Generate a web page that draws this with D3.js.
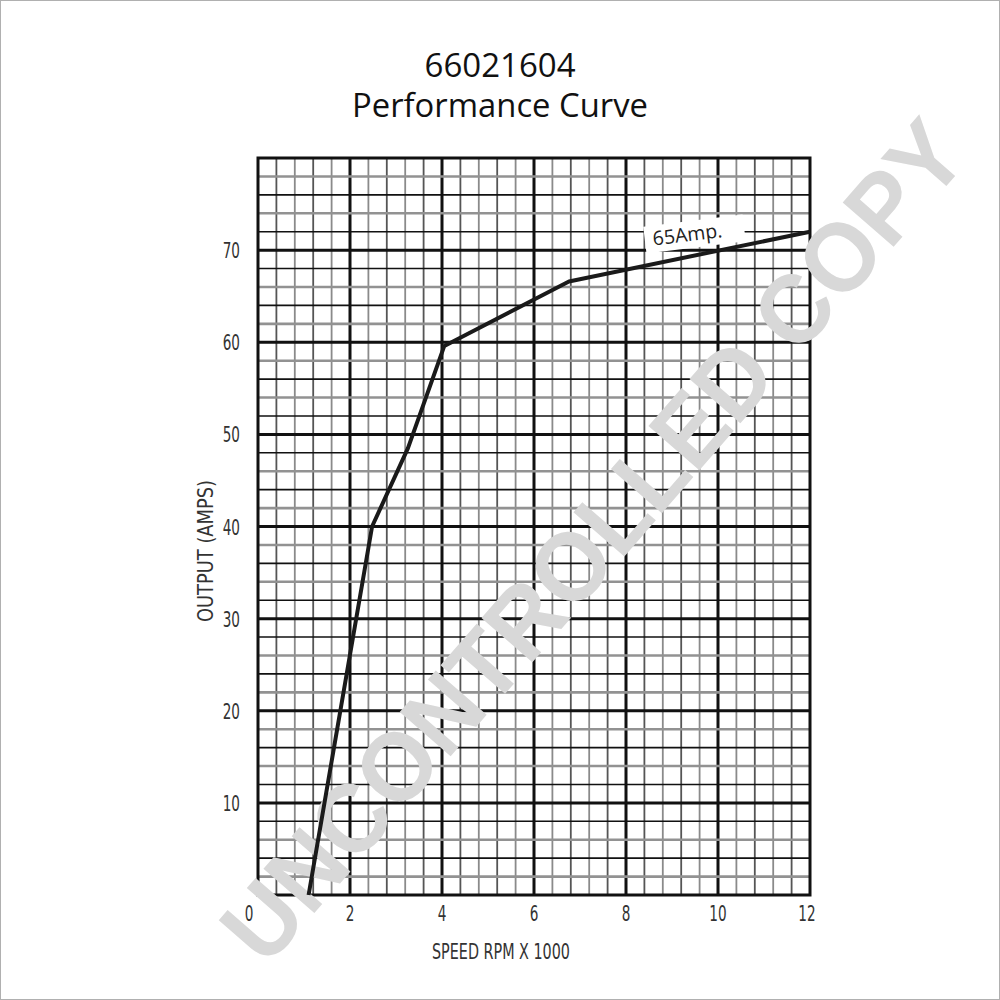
<!DOCTYPE html>
<html><head><meta charset="utf-8">
<script src="https://cdnjs.cloudflare.com/ajax/libs/d3/7.8.5/d3.min.js"></script>
<style>body{margin:0;background:#fff}svg{display:block}</style>
</head><body>
<script>
const titleLines = ["66021604", "Performance Curve"];
const xLabel = "SPEED RPM X 1000";
const yLabel = "OUTPUT (AMPS)";
const xTicks = [0, 2, 4, 6, 8, 10, 12];
const yTicks = [10, 20, 30, 40, 50, 60, 70];
const curveRpm = [1.1, 2.48, 3.26, 4.05, 6.76, 12];
const curveAmps = [0, 40, 48.5, 59.6, 66.6, 72];
const annotationText = "65Amp.";
const watermarkText = "UNCONTROLLED COPY";

const W = 1000, H = 1000;
const svg = d3.select("body").append("svg").attr("width", W).attr("height", H);
svg.append("rect").attr("x",0.5).attr("y",0.5).attr("width",W-1).attr("height",H-1)
  .attr("fill","#fff").attr("stroke","#b0b0b0");

const x = d3.scaleLinear().domain([0, 12]).range([258, 810]);
const y = d3.scaleLinear().domain([0, 80]).range([895, 158]);

const grid = svg.append("g");
// vertical grid lines every 0.4
d3.range(1, 30).forEach(i => {
  const v = i * 0.4;
  const major = i % 5 === 0;
  grid.append("line")
    .attr("x1", x(v)).attr("x2", x(v)).attr("y1", y(0)).attr("y2", y(80))
    .attr("stroke", major ? "#111" : (i % 2 ? "#555" : "#8a8a8a"))
    .attr("stroke-width", major ? 3 : 1.8);
});
// horizontal grid lines every 2
d3.range(1, 40).forEach(i => {
  const v = i * 2;
  let col, w;
  if (v % 10 === 0) { col = "#111"; w = 3; }
  else if (v % 4 === 2) { col = "#929292"; w = 2.6; }
  else { col = "#111"; w = 1.6; }
  grid.append("line")
    .attr("x1", x(0)).attr("x2", x(12)).attr("y1", y(v)).attr("y2", y(v))
    .attr("stroke", col).attr("stroke-width", w);
});
svg.append("rect").attr("x", x(0)).attr("y", y(80))
  .attr("width", x(12) - x(0)).attr("height", y(0) - y(80))
  .attr("fill", "none").attr("stroke", "#111").attr("stroke-width", 3);

// watermark
svg.append("text")
  .attr("transform", "translate(592,540) rotate(-49)")
  .attr("text-anchor", "middle").attr("dy", "0.36em")
  .attr("font-family", "Liberation Sans, Arial, sans-serif")
  .attr("font-weight", "bold").attr("font-size", 98)
  .attr("textLength", 1075).attr("lengthAdjust", "spacingAndGlyphs")
  .attr("fill", "#d8d8d8")
  .text(watermarkText);

// annotation box + text
const ann = svg.append("g").attr("transform", `translate(${x(8.6)},${y(70.5)}) rotate(-7)`);
ann.append("rect").attr("x", -8).attr("y", -20).attr("width", 100).attr("height", 27).attr("fill", "#fff");
ann.append("text").attr("x", 0).attr("y", 0)
  .attr("font-family", "Open Sans, sans-serif").attr("font-size", 19.5).attr("fill", "#222")
  .text(annotationText);

// curve
const pts = curveRpm.map((r, i) => [r, curveAmps[i]]);
svg.append("path")
  .attr("d", d3.line().x(d => x(d[0])).y(d => y(d[1]))(pts))
  .attr("fill", "none").attr("stroke", "#1a1a1a").attr("stroke-width", 4)
  .attr("stroke-linejoin", "round");

// tick labels
const narrow = "Liberation Sans Narrow, Arial Narrow, DejaVu Sans Condensed, sans-serif";
xTicks.forEach(v => {
  svg.append("text")
    .attr("transform", `translate(${x(v) + (v === 0 ? -9 : (v === 12 ? -3 : 0))},921) scale(0.72,1)`)
    .attr("text-anchor", "middle")
    .attr("font-family", narrow).attr("font-size", 21).attr("fill", "#333")
    .text(v);
});
yTicks.forEach(v => {
  svg.append("text")
    .attr("transform", `translate(${240},${y(v) + 8}) scale(0.72,1)`)
    .attr("text-anchor", "end")
    .attr("font-family", narrow).attr("font-size", 21).attr("fill", "#333")
    .text(v);
});

// axis titles
svg.append("text").attr("x", 501).attr("y", 959)
  .attr("text-anchor", "middle").attr("font-family", narrow).attr("font-size", 21)
  .attr("textLength", 138).attr("lengthAdjust", "spacingAndGlyphs").attr("fill", "#333")
  .text(xLabel);
svg.append("text").attr("transform", "translate(213,551) rotate(-90)")
  .attr("text-anchor", "middle").attr("font-family", narrow).attr("font-size", 21)
  .attr("textLength", 142).attr("lengthAdjust", "spacingAndGlyphs").attr("fill", "#333")
  .text(yLabel);

// title
svg.append("text").attr("x", 500).attr("y", 77).attr("text-anchor", "middle")
  .attr("font-family", "Open Sans, sans-serif").attr("font-size", 32).attr("fill", "#111")
  .attr("textLength", 151).attr("lengthAdjust", "spacingAndGlyphs")
  .text(titleLines[0]);
svg.append("text").attr("x", 500).attr("y", 117).attr("text-anchor", "middle")
  .attr("font-family", "Open Sans, sans-serif").attr("font-size", 32).attr("fill", "#111")
  .attr("textLength", 296).attr("lengthAdjust", "spacingAndGlyphs")
  .text(titleLines[1]);
</script>
</body></html>
